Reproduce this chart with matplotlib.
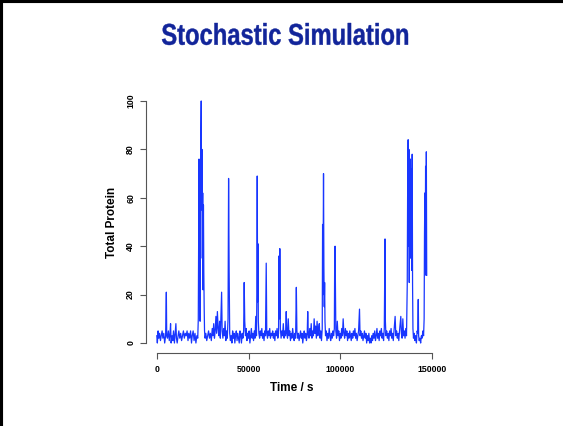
import matplotlib
matplotlib.use("Agg")
import matplotlib.pyplot as plt
from matplotlib.lines import Line2D
from matplotlib.textpath import TextPath
from matplotlib.patches import PathPatch
from matplotlib.font_manager import FontProperties
from matplotlib.transforms import Affine2D, IdentityTransform

# Gillespie trace: time (s) and total protein count
time_s = [
    0, 300, 700, 1100, 1500, 2000, 2400, 2900, 3300, 3800,
    4300, 4800, 5200, 5400, 5800, 6300, 6800, 7200, 7500, 7800,
    8300, 8700, 9100, 9600, 10000, 10400, 10700, 11100, 11600, 12000,
    12500, 13000, 13500, 14000, 14500, 15000, 15500, 16000, 16500, 17000,
    17400, 17900, 18400, 18900, 19300, 19800, 20300, 20800, 21300, 21800,
    22300, 22600, 22800, 23000, 23200, 23400, 23600, 23800, 24000, 24200,
    24400, 24600, 24800, 25000, 25200, 25400, 25600, 25800, 26000, 26300,
    26700, 27200, 27700, 28200, 28700, 29200, 29700, 30200, 30600, 31000,
    31400, 31800, 32200, 32600, 33000, 33400, 33800, 34200, 34600, 35000,
    35300, 35600, 36000, 36400, 36800, 37200, 37600, 38000, 38400, 38800,
    39100, 39400, 39700, 40100, 40500, 40900, 41300, 41700, 42100, 42500,
    42900, 43300, 43700, 44100, 44500, 44900, 45300, 45700, 46100, 46500,
    46900, 47300, 47600, 47900, 48300, 48700, 49100, 49500, 49900, 50300,
    50700, 51100, 51500, 51900, 52300, 52700, 53100, 53500, 53900, 54300,
    54500, 54700, 54900, 55100, 55300, 55600, 56000, 56400, 56800, 57200,
    57600, 58000, 58400, 58800, 59200, 59600, 59900, 60300, 60700, 61100,
    61500, 61900, 62300, 62700, 63100, 63500, 63900, 64300, 64700, 65100,
    65500, 65900, 66300, 66600, 66800, 67000, 67300, 67700, 68100, 68500,
    68900, 69300, 69700, 70100, 70500, 70800, 71200, 71600, 72000, 72400,
    72800, 73200, 73600, 74000, 74400, 74800, 75200, 75600, 76000, 76300,
    76700, 77100, 77500, 77900, 78300, 78700, 79100, 79500, 79900, 80300,
    80700, 81100, 81500, 81900, 82200, 82500, 82900, 83300, 83700, 84100,
    84500, 84900, 85300, 85700, 86100, 86500, 86900, 87300, 87700, 88100,
    88500, 88900, 89300, 89700, 90100, 90300, 90500, 90800, 91000, 91200,
    91400, 91600, 91900, 92300, 92700, 93100, 93500, 93900, 94300, 94700,
    95100, 95500, 95900, 96300, 96700, 96900, 97100, 97300, 97500, 97900,
    98300, 98700, 99100, 99500, 99900, 100300, 100700, 101100, 101500, 101900,
    102300, 102700, 103100, 103500, 103900, 104300, 104700, 105100, 105500, 105900,
    106300, 106700, 107100, 107500, 107900, 108300, 108700, 109100, 109500, 109900,
    110400, 110700, 111100, 111500, 111900, 112300, 112700, 113100, 113500, 113900,
    114300, 114700, 115100, 115500, 115900, 116300, 116700, 117100, 117500, 117900,
    118300, 118700, 119100, 119500, 119900, 120300, 120700, 121100, 121500, 121900,
    122300, 122700, 123100, 123500, 123900, 124300, 124500, 124800, 125200, 125600,
    126000, 126400, 126800, 127200, 127600, 128000, 128400, 128800, 129200, 129800,
    130200, 130600, 131000, 131400, 131800, 132200, 132900, 133200, 133600, 134000,
    134400, 134800, 135200, 135600, 136000, 136400, 136600, 136900, 137100, 137300,
    137500, 137700, 137900, 138100, 138300, 138600, 138800, 139100, 139300, 139500,
    139800, 140200, 140600, 141000, 141400, 141800, 142100, 142400, 142600, 142900,
    143300, 143700, 144100, 144500, 144900, 145300, 145600, 145800, 146000, 146200,
    146400, 146600, 146800, 147000,
]
protein = [
    3, 0, 5, 2, 4, 1, 3, 5, 2, 4,
    0, 3, 21, 3, 2, 5, 1, 4, 8, 0,
    3, 1, 5, 0, 4, 8, 2, 0, 3, 5,
    2, 4, 1, 3, 5, 2, 4, 3, 5, 1,
    4, 2, 5, 0, 3, 5, 1, 4, 0, 3,
    2, 10, 45, 76, 40, 70, 9, 60, 86, 100,
    55, 80, 35, 62, 22, 57, 30, 15, 5, 2,
    4, 1, 3, 5, 2, 4, 1, 6, 3, 8,
    2, 5, 11, 4, 13, 6, 3, 9, 2, 12,
    21, 5, 2, 6, 3, 9, 1, 5, 2, 10,
    68, 30, 4, 1, 3, 0, 5, 2, 4, 0,
    3, 5, 1, 4, 2, 0, 5, 3, 0, 4,
    2, 5, 25, 9, 3, 6, 1, 4, 2, 5,
    0, 3, 6, 2, 4, 1, 5, 2, 11, 3,
    20, 69, 17, 41, 9, 4, 2, 5, 3, 6,
    2, 4, 1, 5, 3, 33, 4, 2, 5, 3,
    6, 2, 4, 3, 5, 2, 4, 1, 5, 3,
    6, 2, 4, 36, 10, 39, 6, 2, 5, 3,
    8, 2, 5, 3, 13, 4, 2, 10, 3, 5,
    1, 4, 2, 6, 3, 1, 4, 2, 23, 5,
    2, 4, 1, 3, 5, 2, 4, 0, 3, 5,
    2, 4, 1, 3, 13, 4, 2, 6, 3, 8,
    2, 5, 3, 10, 4, 7, 2, 9, 3, 6,
    8, 2, 5, 1, 6, 49, 20, 70, 32, 15,
    25, 9, 3, 5, 1, 4, 2, 6, 3, 1,
    4, 2, 5, 3, 6, 36, 40, 21, 5, 2,
    9, 3, 5, 1, 4, 2, 6, 3, 10, 4,
    2, 6, 3, 5, 1, 4, 2, 5, 3, 1,
    4, 2, 5, 3, 6, 2, 4, 1, 3, 5,
    14, 3, 5, 2, 4, 1, 3, 5, 2, 4,
    0, 3, 1, 4, 0, 2, 0, 3, 1, 4,
    2, 5, 1, 3, 6, 2, 4, 1, 5, 3,
    6, 2, 4, 1, 6, 43, 9, 3, 5, 2,
    4, 1, 5, 3, 6, 2, 4, 1, 5, 11,
    3, 5, 2, 4, 1, 5, 11, 4, 2, 10,
    3, 5, 2, 6, 3, 24, 60, 84, 40, 80,
    25, 66, 35, 76, 45, 72, 30, 78, 24, 6,
    2, 4, 1, 3, 0, 5, 4, 18, 3, 1,
    2, 0, 3, 2, 5, 3, 10, 45, 62, 38,
    73, 28, 79, 28,
]

x_ticks = [0, 50000, 100000, 150000]
y_ticks = [0, 20, 40, 60, 80, 100]

title_text = "Stochastic Simulation"
x_label = "Time / s"
y_label = "Total Protein"

W, H = 563, 426
fig = plt.figure(figsize=(W / 100, H / 100), dpi=100)
fig.patch.set_facecolor("white")

# slide border (left and top edges only)
fig.add_artist(Line2D([0, 0], [0, 1], transform=fig.transFigure, color="black", lw=4.4))
fig.add_artist(Line2D([0, 1], [1, 1], transform=fig.transFigure, color="black", lw=4.4))

# title: condensed bold look -> squeeze a bold text path horizontally
# target box in pixels: x 162..408, y 23..45 (from top)
tp = TextPath((0, 0), title_text, size=30,
              prop=FontProperties(family="Liberation Sans", weight="bold"))
bb = tp.get_extents()
sx = 246 / bb.width
sy = 22 / bb.height
tr = (Affine2D().translate(-bb.x0, -bb.y0).scale(sx, sy)
      .translate(162, H - 45))
fig.add_artist(PathPatch(tr.transform_path(tp), transform=IdentityTransform(),
                         facecolor="#12259a", edgecolor="#12259a", lw=0.3))

# plot region in pixels: left 146, right 437.5, top 91.3, bottom 352.7
ax = fig.add_axes([146 / W, 1 - 352.7 / H, 291.5 / W, 261.4 / H])
ax.plot(time_s, protein, color="#1836ff", lw=0.9)

ax.set_xlim(-5880, 152880)
ax.set_ylim(-4, 104)

for side in ["top", "right"]:
    ax.spines[side].set_visible(False)
for side in ["left", "bottom"]:
    ax.spines[side].set_color("#555555")
    ax.spines[side].set_linewidth(0.8)
ax.spines["left"].set_bounds(0, 100)
ax.spines["bottom"].set_bounds(0, 150000)

tick_font = dict(family=["Liberation Sans", "DejaVu Sans"], fontweight="bold", fontsize=6.3)
ax.set_xticks(x_ticks)
ax.set_xticklabels([str(v) for v in x_ticks], **tick_font)
ax.set_yticks(y_ticks)
ax.set_yticklabels([str(v) for v in y_ticks], rotation=90, va="center", **tick_font)
ax.tick_params(axis="x", length=4.3, width=0.8, color="#555555", pad=4.5)
ax.tick_params(axis="y", length=4.3, width=0.8, color="#555555", pad=3.5)

label_font = dict(family=["Liberation Sans", "DejaVu Sans"], fontweight="bold", fontsize=8.5)
ax.set_xlabel(x_label, labelpad=6, **label_font)
ax.set_ylabel(y_label, labelpad=6, **label_font)

fig.savefig("out.png", dpi=100)
